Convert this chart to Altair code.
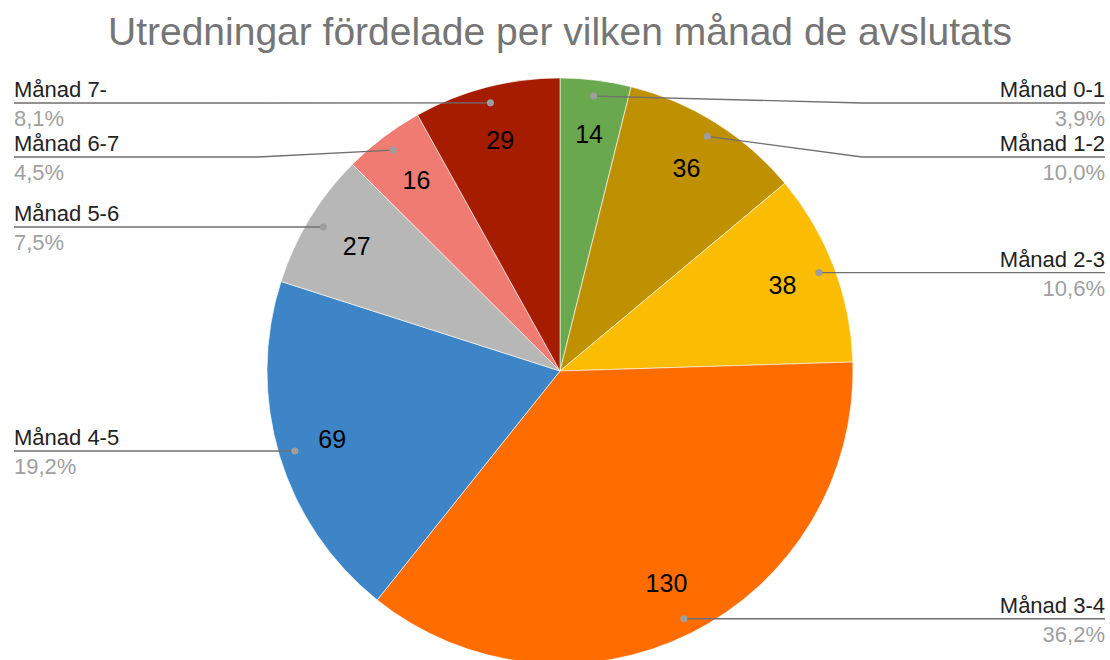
import altair as alt
import numpy as np
import pandas as pd

# ---- data ----
names = ["Månad 0-1", "Månad 1-2", "Månad 2-3", "Månad 3-4",
         "Månad 4-5", "Månad 5-6", "Månad 6-7", "Månad 7-"]
values = [14, 36, 38, 130, 69, 27, 16, 29]
colors = ["#6aa84f", "#bf9000", "#fbbc04", "#ff6d01",
          "#3d85c6", "#b7b7b7", "#f07b72", "#a61c00"]
title = "Utredningar fördelade per vilken månad de avslutats"

# ---- layout ----
W, H, TOP = 1110, 580, 80
CX, CY, R = 560, 291, 293
R_DOT, R_NUM = 277, 238
ELBOW = R + 9
X_RIGHT, X_LEFT = 1105, 14
Y_MIN, GAP = 23, 54
FONT = "Liberation Sans"

total = sum(values)
v = np.array(values, dtype=float)
cum = np.cumsum(v)
mid = (cum - v / 2) / total * 2 * np.pi

df = pd.DataFrame({
    "name": names,
    "value": values,
    "seq": list(range(len(names))),
    "cx": CX,
    "cy": CY,
})
df["pct"] = [f"{x / total * 100:.1f}".replace(".", ",") + "%" for x in values]
df["dx"] = CX + R_DOT * np.sin(mid)
df["dy"] = CY - R_DOT * np.cos(mid)
df["nx"] = CX + R_NUM * np.sin(mid)
df["ny"] = CY - R_NUM * np.cos(mid)
df["side"] = np.where(np.sin(mid) >= 0, "right", "left")

# label positions with simple collision avoidance per side
df["ly"] = df["dy"]
for side in ["right", "left"]:
    sub = df[df["side"] == side].sort_values("dy")
    prev = -1e9
    for idx, row in sub.iterrows():
        ly = max(row["dy"], prev + GAP, Y_MIN)
        df.loc[idx, "ly"] = ly
        prev = ly
df["ex"] = np.where(df["side"] == "right", X_RIGHT, X_LEFT)
df["bx"] = np.where(df["side"] == "right", CX + ELBOW, CX - ELBOW)
df["name_y"] = df["ly"] - 6
df["pct_y"] = df["ly"] + 6

rows = []
for _, r in df.iterrows():
    rows.append({"name": r["name"], "k": 0, "x": r["dx"], "y": r["dy"]})
    rows.append({"name": r["name"], "k": 1, "x": r["bx"], "y": r["ly"]})
    rows.append({"name": r["name"], "k": 2, "x": r["ex"], "y": r["ly"]})
lines = pd.DataFrame(rows)

xs = alt.Scale(domain=[0, W], nice=False, zero=False)
ys = alt.Scale(domain=[0, H], nice=False, zero=False, reverse=True)

base = alt.Chart(df)

arcs = base.mark_arc(outerRadius=R, stroke="white", strokeWidth=0.6).encode(
    x=alt.X("cx:Q", scale=xs, axis=None),
    y=alt.Y("cy:Q", scale=ys, axis=None),
    theta=alt.Theta("value:Q", stack=True),
    order=alt.Order("seq:Q"),
    color=alt.Color("name:N", scale=alt.Scale(domain=names, range=colors), legend=None),
)

numbers = base.mark_text(font=FONT, fontSize=25, color="#000000",
                         align="center", baseline="middle").encode(
    x=alt.X("nx:Q", scale=xs, axis=None),
    y=alt.Y("ny:Q", scale=ys, axis=None),
    text="value:Q",
)

leader = alt.Chart(lines).mark_line(color="#6f6f6f", strokeWidth=1.4).encode(
    x=alt.X("x:Q", scale=xs, axis=None),
    y=alt.Y("y:Q", scale=ys, axis=None),
    detail="name:N",
    order="k:Q",
)

dots = base.mark_circle(size=50, color="#9e9e9e", opacity=1).encode(
    x=alt.X("dx:Q", scale=xs, axis=None),
    y=alt.Y("dy:Q", scale=ys, axis=None),
)

def side_text(side, align):
    b = base.transform_filter(alt.datum.side == side)
    nm = b.mark_text(font=FONT, fontSize=22, color="#222222",
                     align=align, baseline="alphabetic").encode(
        x=alt.X("ex:Q", scale=xs, axis=None),
        y=alt.Y("name_y:Q", scale=ys, axis=None),
        text="name:N",
    )
    pc = b.mark_text(font=FONT, fontSize=22, color="#a0a0a0",
                     align=align, baseline="top").encode(
        x=alt.X("ex:Q", scale=xs, axis=None),
        y=alt.Y("pct_y:Q", scale=ys, axis=None),
        text="pct:N",
    )
    return nm + pc

chart = alt.layer(
    arcs, numbers, leader, dots,
    side_text("right", "right"), side_text("left", "left"),
).properties(
    width=W,
    height=H,
    autosize=alt.AutoSizeParams(type="none"),
    padding={"left": 0, "top": TOP, "right": 0, "bottom": 0},
    title=alt.TitleParams(
        text=title, font=FONT, fontSize=39, fontWeight="normal",
        color="#757575", anchor="middle", offset=24, dx=5,
    ),
).configure_view(stroke=None)

chart.save("out.html", embed_options={"renderer": "svg", "actions": False})
